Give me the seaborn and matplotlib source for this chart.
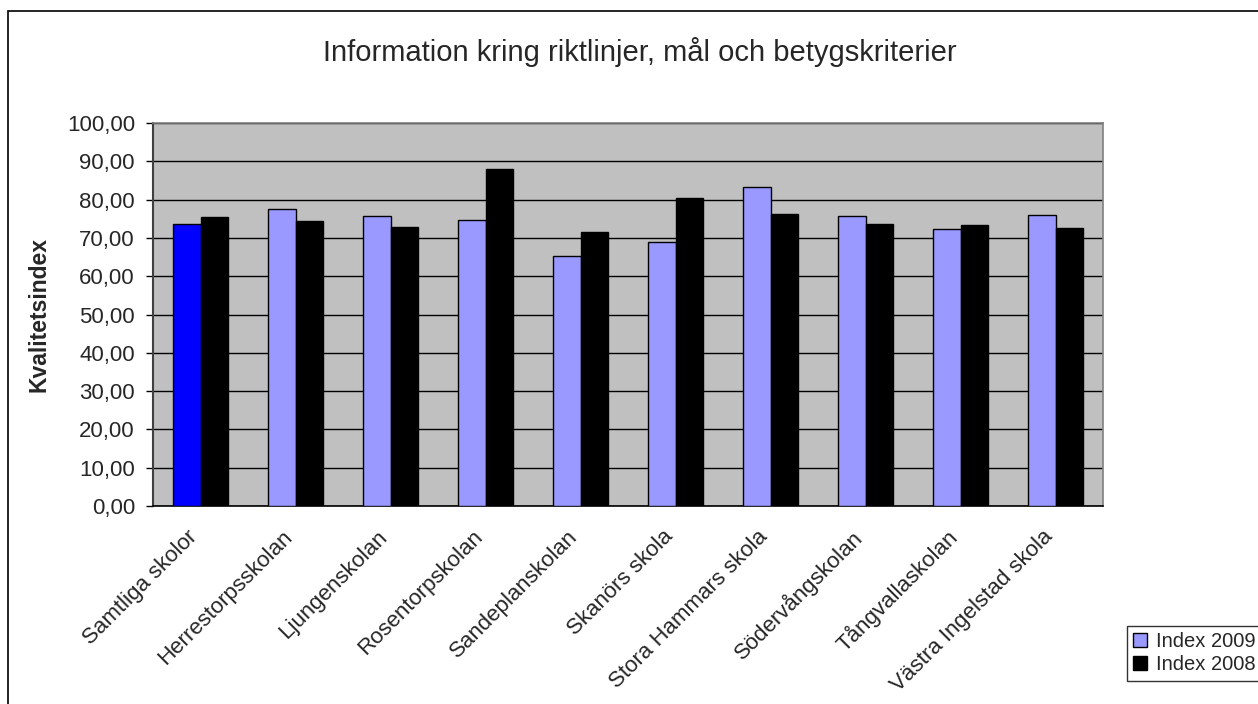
import matplotlib
matplotlib.use("Agg")
import matplotlib.pyplot as plt
import matplotlib.transforms as mtransforms
import numpy as np
import pandas as pd
import seaborn as sns
from matplotlib.patches import Patch, Rectangle
from matplotlib.ticker import FuncFormatter, FixedLocator

skolor = [
    "Samtliga skolor", "Herrestorpsskolan", "Ljungenskolan", "Rosentorpskolan",
    "Sandeplanskolan", "Skanörs skola", "Stora Hammars skola", "Södervångskolan",
    "Tångvallaskolan", "Västra Ingelstad skola",
]
index_2009 = [73.6, 77.5, 75.7, 74.7, 65.3, 68.8, 83.4, 75.7, 72.2, 76.1]
index_2008 = [75.5, 74.5, 72.9, 88.1, 71.5, 80.5, 76.2, 73.7, 73.3, 72.7]
serier = ["Index 2009", "Index 2008"]

df = pd.DataFrame({
    "skola": skolor * 2,
    "serie": [serier[0]] * len(skolor) + [serier[1]] * len(skolor),
    "varde": index_2009 + index_2008,
})

sns.set_theme(style="white")
plt.rcParams["font.family"] = ["Liberation Sans", "DejaVu Sans"]

fig = plt.figure(figsize=(12.58, 7.04), dpi=100)
ax = fig.add_axes([153 / 1258, 1 - 506 / 704, 950 / 1258, 383 / 704])
ax.set_facecolor("#C0C0C0")

palett = {"Index 2009": "#9999FF", "Index 2008": "#000000"}
sns.barplot(data=df, x="skola", y="varde", hue="serie", hue_order=serier,
            palette=palett, width=0.58, edgecolor="#000000", linewidth=1.0,
            saturation=1, legend=False, ax=ax, zorder=3)
# Samtliga skolor markeras i mörkare blått
ax.containers[0][0].set_facecolor("#0000FF")

ax.set_xlim(-0.5, len(skolor) - 0.5)
ax.set_ylim(0, 100)
ax.set_yticks(np.arange(0, 101, 10))
ax.yaxis.set_major_formatter(FuncFormatter(lambda v, p: f"{v:.2f}".replace(".", ",")))
ax.yaxis.grid(True, color="#000000", linewidth=1.0, zorder=1)
ax.set_axisbelow(True)

ax.xaxis.set_minor_locator(FixedLocator(np.arange(-0.5, len(skolor), 1.0)))
ax.tick_params(axis="x", which="major", length=0, pad=20, labelsize=16)
ax.tick_params(axis="x", which="minor", length=5, width=1, color="#000000", direction="out")
ax.tick_params(axis="y", length=5, width=1, color="#000000", direction="out",
               left=True, pad=8, labelsize=16)
skift = mtransforms.ScaledTranslation(-6 / 100, 0, fig.dpi_scale_trans)
for lbl in ax.get_xticklabels():
    lbl.set_rotation(45)
    lbl.set_ha("right")
    lbl.set_va("center")
    lbl.set_rotation_mode("anchor")
    lbl.set_transform(lbl.get_transform() + skift)

for side in ["top", "right"]:
    ax.spines[side].set_color("#808080")
    ax.spines[side].set_linewidth(1.2)
ax.spines["left"].set_color("#404040")
ax.spines["left"].set_linewidth(1.5)
ax.spines["bottom"].set_color("#000000")
ax.spines["bottom"].set_linewidth(1.2)

ax.set_xlabel("")
ax.set_ylabel("Kvalitetsindex", fontsize=16.5, fontweight="bold", labelpad=12)

fig.text(640 / 1258, 1 - 52 / 704, "Information kring riktlinjer, mål och betygskriterier",
         ha="center", va="center", fontsize=21)

# yttre ram runt diagrammet
fig.patches.append(Rectangle((8 / 1258, -0.1), 1.2, 1 - 11 / 704 + 0.1,
                             transform=fig.transFigure, fill=False,
                             edgecolor="#000000", linewidth=1.2))

handles = [Patch(facecolor=palett[s], edgecolor="#000000", label=s) for s in serier]
leg = fig.legend(handles=handles, loc="upper left",
                 bbox_to_anchor=(1127 / 1258, 1 - 626 / 704), fontsize=14.5,
                 frameon=True, fancybox=False, edgecolor="#000000",
                 handlelength=0.7, handleheight=0.7, handletextpad=0.45,
                 borderpad=0.3, labelspacing=0.22, borderaxespad=0)
leg.get_frame().set_linewidth(1.0)

fig.savefig("out.png", dpi=100)
plt.close(fig)
